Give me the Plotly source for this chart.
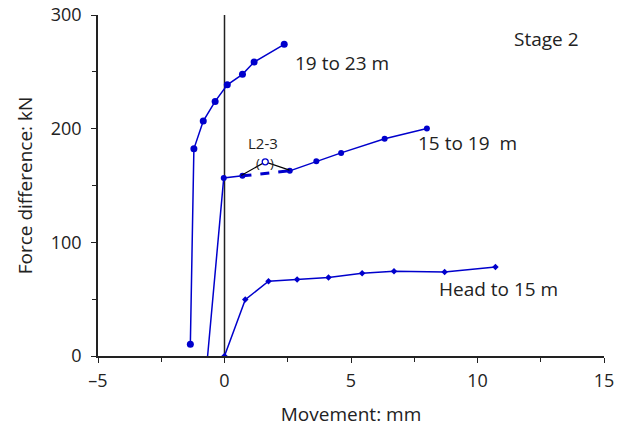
import plotly.graph_objects as go

# Data
x_19_23 = [2.36, 1.17, 0.71, 0.11, -0.37, -0.84, -1.21, -1.35]
y_19_23 = [274.2, 258.6, 247.8, 238.6, 224.0, 206.7, 182.3, 10.3]

x_15_19 = [-0.68, -0.03, 0.71, 2.58, 3.63, 4.61, 6.33, 8.00]
y_15_19 = [-3.0, 156.7, 158.5, 162.9, 171.4, 178.7, 191.1, 200.2]

x_head_15 = [0.0, 0.82, 1.74, 2.87, 4.11, 5.44, 6.70, 8.70, 10.71]
y_head_15 = [0.0, 49.6, 65.8, 67.2, 69.0, 72.8, 74.6, 74.0, 78.4]

# L2-3 original reading (replaced by dashed segment)
x_l23 = [0.66, 1.61, 2.57]
y_l23 = [158.8, 170.8, 163.5]

x_ticks = [-5, 0, 5, 10, 15]
x_ticklabels = ["–5", "0", "5", "10", "15"]
y_ticks = [0, 100, 200, 300]

BLUE = "#0000CC"
INK = "#222222"
FONT = "Open Sans"

fig = go.Figure()

# 19 to 23 m
fig.add_trace(go.Scatter(x=x_19_23, y=y_19_23, mode="lines+markers",
                         line=dict(color=BLUE, width=1.5),
                         marker=dict(color=BLUE, size=7), showlegend=False))

# 15 to 19 m: solid parts and dashed corrected segment
fig.add_trace(go.Scatter(x=x_15_19[:3], y=y_15_19[:3], mode="lines+markers",
                         line=dict(color=BLUE, width=1.5),
                         marker=dict(color=BLUE, size=6), showlegend=False))
fig.add_trace(go.Scatter(x=x_15_19[2:4], y=y_15_19[2:4], mode="lines",
                         line=dict(color=BLUE, width=3, dash="dash"),
                         showlegend=False))
fig.add_trace(go.Scatter(x=x_15_19[3:], y=y_15_19[3:], mode="lines+markers",
                         line=dict(color=BLUE, width=1.5),
                         marker=dict(color=BLUE, size=6), showlegend=False))

# L2-3 original reading
fig.add_trace(go.Scatter(x=x_l23, y=y_l23, mode="lines",
                         line=dict(color="black", width=1.2), showlegend=False))
fig.add_trace(go.Scatter(x=[x_l23[1]], y=[y_l23[1]], mode="markers",
                         marker=dict(color="white", size=6, symbol="circle",
                                     line=dict(color=BLUE, width=1.3)),
                         showlegend=False))

# Head to 15 m
fig.add_trace(go.Scatter(x=x_head_15, y=y_head_15, mode="lines+markers",
                         line=dict(color=BLUE, width=1.5),
                         marker=dict(color=BLUE, size=5, symbol="diamond"),
                         showlegend=False))

# vertical line at x=0
fig.add_shape(type="line", x0=0, x1=0, y0=0, y1=300, xref="x", yref="y",
              line=dict(color=INK, width=1.5), layer="below")

lab_font = dict(family=FONT, size=19, color=INK)
fig.add_annotation(x=2.72, y=257.5, text="19 to 23 m", showarrow=False,
                   xanchor="left", yanchor="middle", font=lab_font)
fig.add_annotation(x=7.55, y=187.3, text="15 to 19&nbsp;&nbsp;m", showarrow=False,
                   xanchor="left", yanchor="middle", font=lab_font)
fig.add_annotation(x=8.4, y=58.7, text="Head to 15 m", showarrow=False,
                   xanchor="left", yanchor="middle", font=lab_font)
fig.add_annotation(x=11.35, y=278.5, text="Stage 2", showarrow=False,
                   xanchor="left", yanchor="middle", font=lab_font)
fig.add_annotation(x=1.54, y=187.0, text="L2-3", showarrow=False,
                   xanchor="center", yanchor="middle",
                   font=dict(family=FONT, size=15, color=INK))
fig.add_annotation(x=1.61, y=169.5, text="(&nbsp;&nbsp;&nbsp;)", showarrow=False,
                   xanchor="center", yanchor="middle",
                   font=dict(family=FONT, size=13, color=INK))

fig.update_xaxes(range=[-5, 15], tickvals=x_ticks, ticktext=x_ticklabels,
                 automargin=False, ticklabelstandoff=3, ticklabeloverflow="allow",
                 ticks="outside", ticklen=5, tickwidth=1.3, tickcolor=INK,
                 showline=True, linecolor=INK, linewidth=1.5,
                 showgrid=False, zeroline=False,
                 minor=dict(dtick=2.5, tick0=0, ticks="outside", ticklen=4,
                            tickwidth=1.3, tickcolor=INK, showgrid=False),
                 tickfont=dict(family=FONT, size=18, color=INK),
                 title=dict(text="Movement: mm", standoff=18,
                            font=dict(family=FONT, size=19, color=INK)))
fig.update_yaxes(range=[0, 300], tickvals=y_ticks,
                 automargin=False, ticklabelstandoff=6, ticklabeloverflow="allow",
                 ticks="outside", ticklen=5, tickwidth=1.3, tickcolor=INK,
                 showline=True, linecolor=INK, linewidth=1.5,
                 showgrid=False, zeroline=False,
                 minor=dict(dtick=50, tick0=0, ticks="outside", ticklen=4,
                            tickwidth=1.3, tickcolor=INK, showgrid=False),
                 tickfont=dict(family=FONT, size=18, color=INK),
                 title=dict(text="Force difference: kN", standoff=13,
                            font=dict(family=FONT, size=19, color=INK)))

fig.update_layout(width=629, height=427,
                  margin=dict(l=97.5, r=25, t=15, b=71),
                  plot_bgcolor="white", paper_bgcolor="white")

# remove the page's default 8 px body margin so the figure fills the window
fig.write_html("out.html",
               config={"displayModeBar": False},
               post_script="document.body.style.margin='0';document.body.style.overflow='hidden';")
